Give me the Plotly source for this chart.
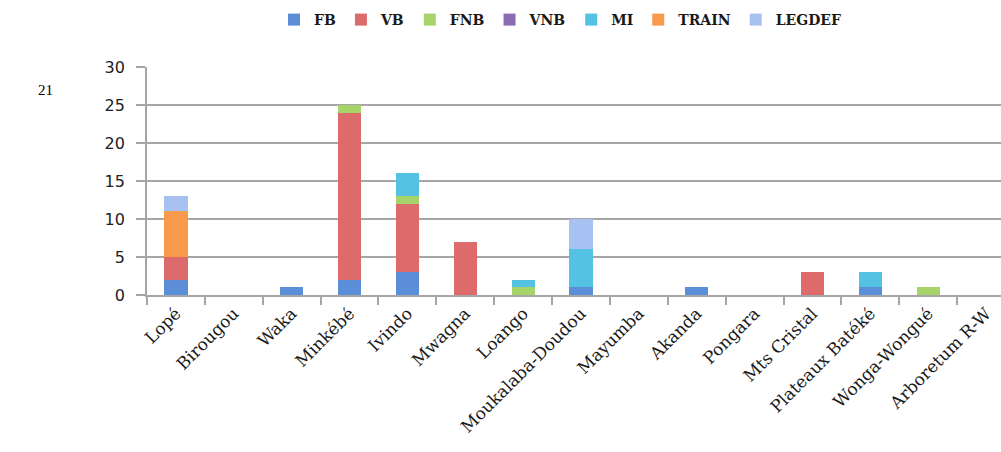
import plotly.graph_objects as go

categories = ["Lopé", "Birougou", "Waka", "Minkébé", "Ivindo", "Mwagna", "Loango",
              "Moukalaba-Doudou", "Mayumba", "Akanda", "Pongara", "Mts Cristal",
              "Plateaux Batéké", "Wonga-Wongué", "Arboretum R-W"]

FB     = [2, 0, 1, 2, 3, 0, 0, 1, 0, 1, 0, 0, 1, 0, 0]
VB     = [3, 0, 0, 22, 9, 7, 0, 0, 0, 0, 0, 3, 0, 0, 0]
FNB    = [0, 0, 0, 1, 1, 0, 1, 0, 0, 0, 0, 0, 0, 1, 0]
VNB    = [0, 0, 0, 0, 0, 0, 0, 0, 0, 0, 0, 0, 0, 0, 0]
MI     = [0, 0, 0, 0, 3, 0, 1, 5, 0, 0, 0, 0, 2, 0, 0]
TRAIN  = [6, 0, 0, 0, 0, 0, 0, 0, 0, 0, 0, 0, 0, 0, 0]
LEGDEF = [2, 0, 0, 0, 0, 0, 0, 4, 0, 0, 0, 0, 0, 0, 0]

series = [("FB", FB, "#5B8ED6"), ("VB", VB, "#DE6B6B"), ("FNB", FNB, "#A6D46A"),
          ("VNB", VNB, "#8C6BB5"), ("MI", MI, "#55C2E4"), ("TRAIN", TRAIN, "#F79A4C"),
          ("LEGDEF", LEGDEF, "#A7C2F2")]

yticks = [0, 5, 10, 15, 20, 25, 30]

serif = "DejaVu Serif"
W, H = 1030, 452
L, R, T, B = 147, 15, 67, 157
plot_w = W - L - R
plot_h = H - T - B

fig = go.Figure()
for name, vals, col in series:
    fig.add_trace(go.Bar(name=name, x=categories, y=vals,
                         marker=dict(color=col, line=dict(width=0)), width=0.40))

fig.update_layout(
    barmode="stack",
    width=W, height=H,
    margin=dict(l=L, r=R, t=T, b=B, autoexpand=False),
    plot_bgcolor="white", paper_bgcolor="white",
    font=dict(family=serif, size=14, color="#1a1a1a"),
    legend=dict(orientation="h", x=560 / W, xanchor="center", xref="container",
                y=1 - 20 / H, yanchor="middle", yref="container",
                font=dict(family=serif, size=14, color="#1a1a1a", weight="bold"),
                itemwidth=30, traceorder="normal"),
    showlegend=True,
)
fig.update_yaxes(range=[0, 30], tickvals=yticks, showgrid=True, gridcolor="#A6A6A6", gridwidth=1.8,
                 showline=True, linecolor="#A6A6A6", linewidth=1.8, ticks="outside", ticklen=9,
                 tickcolor="#A6A6A6", tickwidth=1.5, zeroline=False, automargin=False,
                 ticklabelstandoff=8,
                 tickfont=dict(family="DejaVu Sans", size=16, color="#222222"))
fig.update_xaxes(tickangle=-45, showline=True, linecolor="#A6A6A6", linewidth=1.8,
                 ticks="outside", tickson="boundaries", ticklen=8, tickcolor="#A6A6A6",
                 tickwidth=1.5, automargin=False,
                 tickfont=dict(family=serif, size=17, color="#1a1a1a"))
fig.add_annotation(text="21", xref="paper", yref="paper",
                   x=(45 - L) / plot_w, y=(H - B - 90) / plot_h,
                   showarrow=False, font=dict(family="Liberation Serif", size=15, color="black"),
                   xanchor="center", yanchor="middle")
fig.write_html("out.html", config={"displayModeBar": False},
               post_script="document.body.style.margin='0';document.body.style.overflow='hidden';")
